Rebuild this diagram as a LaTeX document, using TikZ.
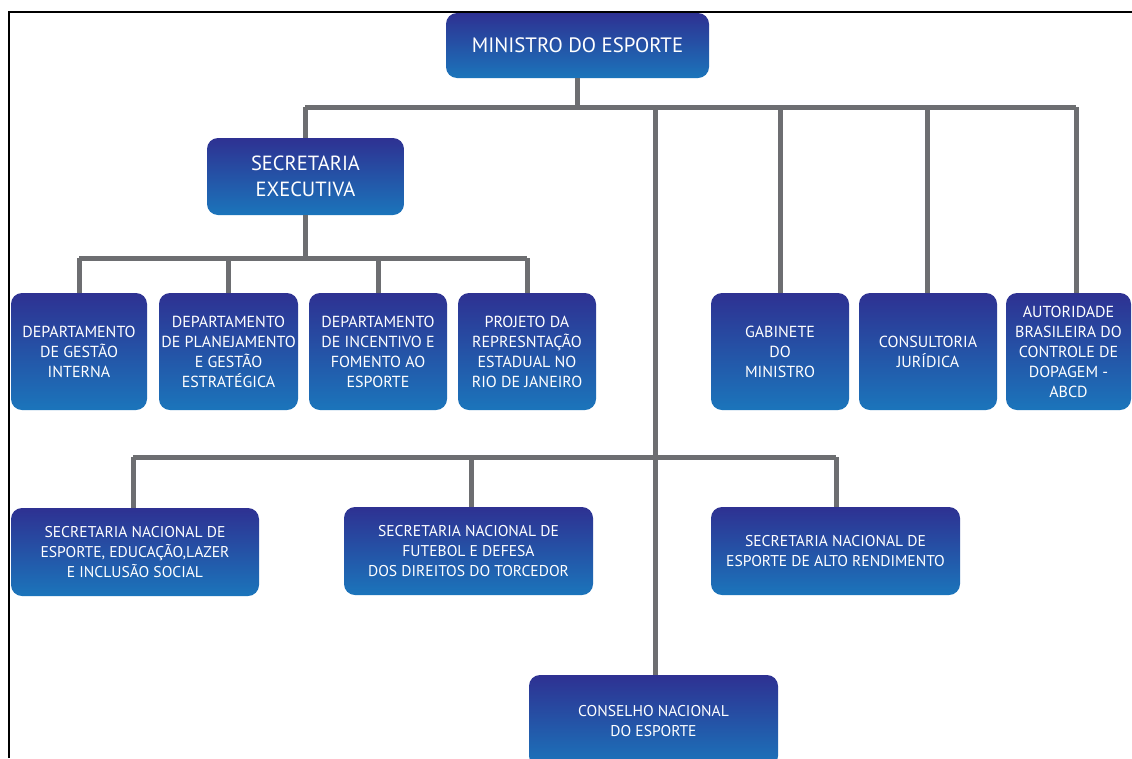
\documentclass[tikz,border=0pt]{standalone}
\usepackage{fontspec}
\setmainfont{PT Sans}
\definecolor{boxtop}{HTML}{2E3192}
\definecolor{boxbot}{HTML}{1B75BB}
\definecolor{linegray}{HTML}{6D6E71}
\begin{document}
\begin{tikzpicture}[x=1pt,y=-1pt,
  box/.style={rounded corners=11pt, top color=boxtop, bottom color=boxbot, draw=none,
    text=white, align=center, inner sep=2pt, font=\fontsize{16}{20}\selectfont},
  wide/.style={box, font=\fontsize{15.6}{20}\selectfont},
  big/.style={box, font=\fontsize{20.5}{26}\selectfont},
  conn/.style={draw=linegray, line width=5pt}]
\useasboundingbox (0,0) rectangle (1132,758);
\fill[white] (0,0) rectangle (1132,758);
% frame
\draw[black, line width=2pt] (9,758) -- (9,12) -- (1132,12);

% nodes
\node[box, font=\fontsize{20.8}{24}\selectfont, minimum width=263pt, minimum height=65pt] (min) at (577.5,45.5) {MINISTRO DO ESPORTE};
\node[big, minimum width=197pt, minimum height=77pt] (sec) at (305.5,176.5) {SECRETARIA\\EXECUTIVA};

\node[box, minimum width=136pt, minimum height=117pt] (d1) at (79,351.5) {DEPARTAMENTO\\DE GESTÃO\\INTERNA};
\node[box, minimum width=139pt, minimum height=117pt] (d2) at (228.5,351.5) {DEPARTAMENTO\\DE PLANEJAMENTO\\E GESTÃO\\ESTRATÉGICA};
\node[box, minimum width=138pt, minimum height=117pt] (d3) at (378,351.5) {DEPARTAMENTO\\DE INCENTIVO E\\FOMENTO AO\\ESPORTE};
\node[box, minimum width=138pt, minimum height=117pt] (d4) at (527,351.5) {PROJETO DA\\REPRESNTAÇÃO\\ESTADUAL NO\\RIO DE JANEIRO};

\node[box, minimum width=138pt, minimum height=117pt] (gab) at (780,351.5) {GABINETE\\DO\\MINISTRO};
\node[box, minimum width=138pt, minimum height=117pt] (cj) at (928,351.5) {CONSULTORIA\\JURÍDICA};
\node[box, minimum width=125pt, minimum height=117pt] (abcd) at (1068.5,351.5) {AUTORIDADE\\BRASILEIRA DO\\CONTROLE DE\\DOPAGEM -\\ABCD};

\node[wide, minimum width=248pt, minimum height=88pt] (sn1) at (135,552) {SECRETARIA NACIONAL DE\\ESPORTE, EDUCAÇÃO,LAZER\\E INCLUSÃO SOCIAL};
\node[wide, minimum width=249pt, minimum height=88pt] (sn2) at (468.5,551) {SECRETARIA NACIONAL DE\\FUTEBOL E DEFESA\\DOS DIREITOS DO TORCEDOR};
\node[wide, minimum width=249pt, minimum height=88pt] (sn3) at (835.5,551) {SECRETARIA NACIONAL DE\\ESPORTE DE ALTO RENDIMENTO};

\node[wide, minimum width=249pt, minimum height=92pt] (cns) at (653.5,721) {CONSELHO NACIONAL\\DO ESPORTE};

% connectors
\coordinate (b1) at (577,107);
\coordinate (b1l) at (305,107);
\coordinate (b1r) at (1076,107);
\coordinate (b2) at (305,258);
\coordinate (b2l) at (79,258);
\coordinate (b2r) at (527,258);
\coordinate (b3l) at (133,457);
\coordinate (b3r) at (836,457);
\coordinate (trunk) at (655,107);

\path[conn] (min.south -| b1) -- (b1);
\path[conn] (b1l) -- (b1r);
\path[conn] (b1l) -- (sec.north -| b1l);
\path[conn] (trunk) -- (cns.north -| trunk);
\path[conn] (780,107) -- (gab.north);
\path[conn] (927,107) -- (cj.north -| 927,0);
\path[conn] (b1r) -- (abcd.north -| b1r);
\path[conn] (sec.south -| b2) -- (b2);
\path[conn] (b2l) -- (b2r);
\path[conn] (b2l) -- (d1.north -| b2l);
\path[conn] (228,258) -- (d2.north -| 228,0);
\path[conn] (378,258) -- (d3.north -| 378,0);
\path[conn] (b2r) -- (d4.north -| b2r);
\path[conn] (b3l) -- (b3r);
\path[conn] (b3l) -- (sn1.north -| b3l);
\path[conn] (471,457) -- (sn2.north -| 471,0);
\path[conn] (b3r) -- (sn3.north -| b3r);
\end{tikzpicture}
\end{document}
